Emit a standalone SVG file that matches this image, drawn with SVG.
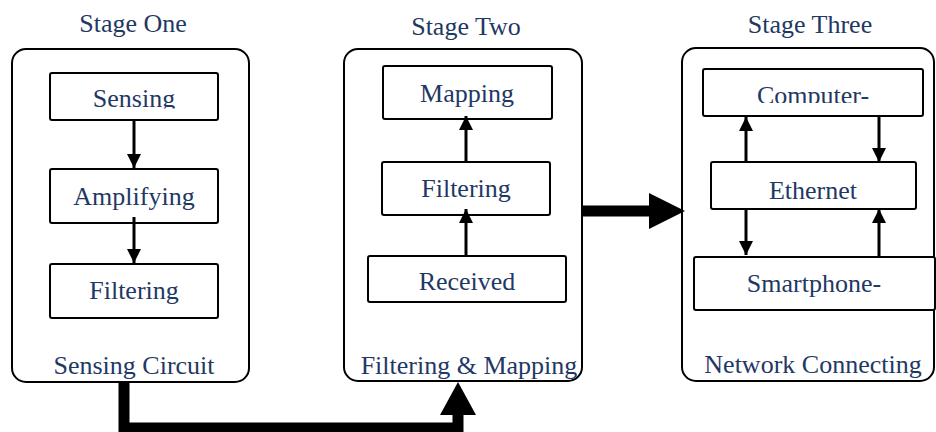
<svg xmlns="http://www.w3.org/2000/svg" width="936" height="432" viewBox="0 0 936 432">
<style>
text{fill:#1f3864;text-anchor:middle}
.stage{fill:#fff;stroke:#000;stroke-width:2}
.box{fill:#fff;stroke:#000;stroke-width:2}
.ln{stroke:#000;stroke-width:3;fill:none}
.thick{stroke:#000;stroke-width:11;fill:none}
</style>
<defs>
<marker id="ah" markerUnits="userSpaceOnUse" markerWidth="14" markerHeight="14" viewBox="0 0 14 14" refX="14" refY="7" orient="auto">
<path d="M0,0 L14,7 L0,14 Z" fill="#000"/>
</marker>
<clipPath id="c1"><rect x="40" y="70" width="200" height="38.5"/></clipPath>
<clipPath id="c2"><rect x="700" y="65" width="230" height="38"/></clipPath>
</defs>
<g font-family="'Liberation Serif', 'Times New Roman', serif" font-size="26">
<g id="titles">
<text x="133" y="32">Stage One</text>
<text x="466" y="35">Stage Two</text>
<text x="810" y="33">Stage Three</text>
</g>
<g id="stage1">
<rect class="stage" x="12" y="49" width="237" height="333" rx="14"/>
<text x="134" y="374">Sensing Circuit</text>
</g>
<g id="stage2">
<rect class="stage" x="344" y="49" width="238" height="332" rx="14"/>
<text x="469" y="374">Filtering &amp; Mapping</text>
</g>
<g id="stage3">
<rect class="stage" x="682" y="48" width="252" height="333" rx="14"/>
<text x="813" y="373">Network Connecting</text>
</g>
<g id="sensing">
<rect class="box" x="50" y="73" width="168" height="47" rx="2"/>
<text x="134" y="107" clip-path="url(#c1)">Sensing</text>
</g>
<g id="amplifying">
<rect class="box" x="50" y="169" width="168" height="54" rx="2"/>
<text x="134" y="205">Amplifying</text>
</g>
<g id="filtering1">
<rect class="box" x="50" y="264" width="168" height="54" rx="2"/>
<text x="134" y="299">Filtering</text>
</g>
<g id="mapping">
<rect class="box" x="383" y="66" width="169" height="53" rx="2"/>
<text x="467" y="102">Mapping</text>
</g>
<g id="filtering2">
<rect class="box" x="382" y="162" width="168" height="53" rx="2"/>
<text x="466" y="197">Filtering</text>
</g>
<g id="received">
<rect class="box" x="368" y="256" width="198" height="46" rx="2"/>
<text x="467" y="290">Received</text>
</g>
<g id="computer">
<rect class="box" x="703" y="69" width="220" height="47" rx="2"/>
<text x="813" y="104" clip-path="url(#c2)">Computer-</text>
</g>
<g id="ethernet">
<rect class="box" x="711" y="162" width="205" height="47" rx="2"/>
<text x="813" y="199">Ethernet</text>
</g>
<g id="smartphone">
<rect class="box" x="694" y="257" width="241" height="53" rx="2"/>
<text x="814" y="292">Smartphone-</text>
</g>
</g>
<g id="connectors">
<line class="ln" x1="134" y1="121" x2="134" y2="168" marker-end="url(#ah)"/>
<line class="ln" x1="134" y1="217" x2="134" y2="263" marker-end="url(#ah)"/>
<line class="ln" x1="466" y1="162" x2="466" y2="116" marker-end="url(#ah)"/>
<line class="ln" x1="466" y1="256" x2="466" y2="209" marker-end="url(#ah)"/>
<line class="ln" x1="746" y1="162" x2="746" y2="117" marker-end="url(#ah)"/>
<line class="ln" x1="879" y1="117" x2="879" y2="162" marker-end="url(#ah)"/>
<line class="ln" x1="746" y1="209" x2="746" y2="255" marker-end="url(#ah)"/>
<line class="ln" x1="879" y1="257" x2="879" y2="209" marker-end="url(#ah)"/>
<path class="thick" d="M124,382 V428 H458 V414"/>
<polygon points="440,415 476,415 458,382" fill="#000"/>
<line class="thick" x1="583" y1="211" x2="650" y2="211"/>
<polygon points="649,193 649,229 685,211" fill="#000"/>
</g>
</svg>
